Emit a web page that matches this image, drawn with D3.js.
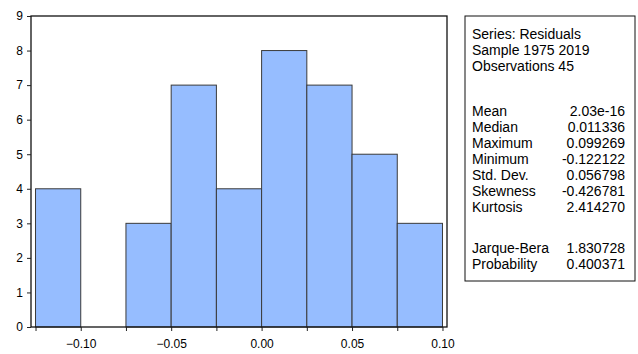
<!DOCTYPE html>
<html>
<head>
<meta charset="utf-8">
<script src="https://cdn.jsdelivr.net/npm/d3@7"></script>
<style>
  body { margin: 0; background: #fff; }
  svg text { font-family: "Liberation Sans", Arial, sans-serif; fill: #000; }
</style>
</head>
<body>
<div id="chart"></div>
<script>
'use strict';

// histogram of residuals
const binEdges = [-0.125, -0.1, -0.075, -0.05, -0.025, 0, 0.025, 0.05, 0.075, 0.1];
const counts = [4, 0, 3, 7, 4, 8, 7, 5, 3];
const xLabelTicks = [-0.10, -0.05, 0.00, 0.05, 0.10];
const yTicks = [0, 1, 2, 3, 4, 5, 6, 7, 8, 9];

// stats box
const headerLines = ['Series: Residuals', 'Sample 1975 2019', 'Observations 45'];
const statNames = ['Mean', 'Median', 'Maximum', 'Minimum', 'Std. Dev.', 'Skewness', 'Kurtosis'];
const statValues = ['2.03e-16', '0.011336', '0.099269', '-0.122122', '0.056798', '-0.426781', '2.414270'];
const testNames = ['Jarque-Bera', 'Probability'];
const testValues = ['1.830728', '0.400371'];

let w = 638;
let h = 354;
let plot = {left: 31, right: 447, top: 16, bottom: 327};

let svg = d3.select('#chart').append('svg')
  .attr('width', w)
  .attr('height', h);

let x = d3.scaleLinear()
  .domain([-0.1275, 0.1025])
  .range([plot.left, plot.right]);

let y = d3.scaleLinear()
  .domain([0, 9])
  .range([plot.bottom, plot.top]);

let bins = counts.map((c, i) => ({x0: binEdges[i], x1: binEdges[i + 1], n: c}));

svg.selectAll('rect.bar')
  .data(bins.filter(d => d.n > 0))
  .enter()
  .append('rect')
  .attr('class', 'bar')
  .attr('x', d => x(d.x0))
  .attr('y', d => y(d.n))
  .attr('width', d => x(d.x1) - x(d.x0))
  .attr('height', d => y(0) - y(d.n))
  .attr('fill', '#96bdff')
  .attr('stroke', '#3a3a3a')
  .attr('stroke-width', 1);

// frame
svg.append('rect')
  .attr('x', plot.left)
  .attr('y', plot.top)
  .attr('width', plot.right - plot.left)
  .attr('height', plot.bottom - plot.top)
  .attr('fill', 'none')
  .attr('stroke', '#111')
  .attr('stroke-width', 1.3);

let xAxis = d3.axisBottom(x)
  .tickValues(binEdges)
  .tickSize(4)
  .tickPadding(8)
  .tickFormat(d => xLabelTicks.some(v => Math.abs(v - d) < 1e-9) ? d3.format('.2f')(d) : '');

let gx = svg.append('g')
  .attr('transform', `translate(0,${plot.bottom})`)
  .call(xAxis);
gx.select('.domain').remove();

let yAxis = d3.axisLeft(y)
  .tickValues(yTicks)
  .tickSize(4)
  .tickPadding(4)
  .tickFormat(d3.format('d'));

let gy = svg.append('g')
  .attr('transform', `translate(${plot.left},0)`)
  .call(yAxis);
gy.select('.domain').remove();

svg.selectAll('.tick line').attr('stroke', '#222');
svg.selectAll('.tick text')
  .attr('font-size', '12px')
  .attr('font-family', '"Liberation Sans", Arial, sans-serif')
  .attr('fill', '#000');

// stats box
let box = {left: 465, right: 635, top: 16, bottom: 281};
svg.append('rect')
  .attr('x', box.left)
  .attr('y', box.top)
  .attr('width', box.right - box.left)
  .attr('height', box.bottom - box.top)
  .attr('fill', '#fff')
  .attr('stroke', '#111')
  .attr('stroke-width', 1);

let lineH = 16;
let textX = 472;
let valX = 625;

let g = svg.append('g').attr('font-size', '14px');

function addRows(names, values, y0) {
  names.forEach((name, i) => {
    g.append('text').attr('x', textX).attr('y', y0 + i * lineH).text(name);
    if (values) {
      g.append('text').attr('x', valX).attr('y', y0 + i * lineH)
        .attr('text-anchor', 'end').text(values[i]);
    }
  });
}

addRows(headerLines, null, 39);
addRows(statNames, statValues, 116);
addRows(testNames, testValues, 253);
</script>
</body>
</html>
